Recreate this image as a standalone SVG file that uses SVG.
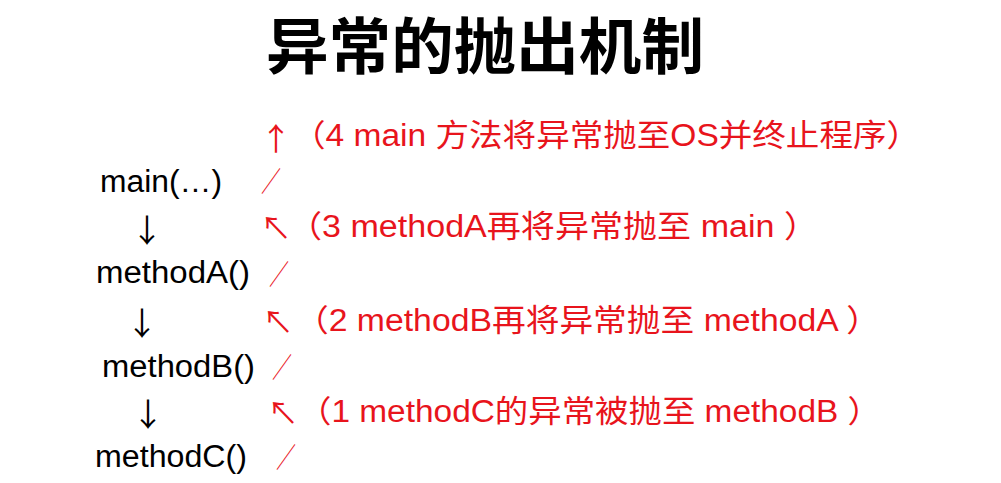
<svg xmlns="http://www.w3.org/2000/svg" width="1001" height="483" viewBox="0 0 1001 483">
<style>
.title{font-family:"Noto Sans CJK SC",sans-serif;font-weight:700;font-size:61px;fill:#000}
.node{font-family:"Liberation Sans","Noto Sans CJK SC",sans-serif;font-size:31px;fill:#000}
.down{font-family:"Noto Sans CJK SC",sans-serif;font-size:32px;fill:#000;text-anchor:middle}
.sym{font-family:"Noto Sans CJK SC",sans-serif;font-size:31px;fill:#e8141c;text-anchor:middle}
.slash{font-family:"Noto Sans CJK SC",sans-serif;font-size:28px;fill:#e8141c}
.note{font-family:"Liberation Sans","Noto Sans CJK SC",sans-serif;font-size:31px;fill:#e8141c}
</style>
<rect width="1001" height="483" fill="#fff"/>
<text class="title" x="266" y="69" textLength="438" lengthAdjust="spacingAndGlyphs">异常的抛出机制</text>
<g id="node-main"><text class="node" x="100" y="192" textLength="122" lengthAdjust="spacingAndGlyphs">main(…)</text></g>
<g id="node-methodA"><text class="node" x="96" y="283" textLength="154" lengthAdjust="spacingAndGlyphs">methodA()</text></g>
<g id="node-methodB"><text class="node" x="102" y="377" textLength="153" lengthAdjust="spacingAndGlyphs">methodB()</text></g>
<g id="node-methodC"><text class="node" x="95" y="467" textLength="152" lengthAdjust="spacingAndGlyphs">methodC()</text></g>
<g id="connectors">
<text class="down" x="147" y="242">↓</text>
<text class="down" x="142" y="335">↓</text>
<text class="down" x="148" y="426">↓</text>
<text class="sym" x="276" y="150">↑</text>
<text class="sym" x="276" y="239">↖</text>
<text class="sym" x="278" y="333">↖</text>
<text class="sym" x="283" y="424">↖</text>
<text class="slash" x="261" y="192" textLength="20" lengthAdjust="spacingAndGlyphs">／</text>
<text class="slash" x="269" y="285" textLength="20" lengthAdjust="spacingAndGlyphs">／</text>
<text class="slash" x="272" y="378" textLength="20" lengthAdjust="spacingAndGlyphs">／</text>
<text class="slash" x="276" y="468" textLength="20" lengthAdjust="spacingAndGlyphs">／</text>
</g>
<g id="notes">
<text class="note" x="292" y="146" textLength="628" lengthAdjust="spacingAndGlyphs">（4 main 方法将异常抛至OS并终止程序）</text>
<text class="note" x="288" y="237" textLength="530" lengthAdjust="spacingAndGlyphs">（3 methodA再将异常抛至 main ）</text>
<text class="note" x="295" y="331" textLength="585" lengthAdjust="spacingAndGlyphs">（2 methodB再将异常抛至 methodA ）</text>
<text class="note" x="298" y="422" textLength="583" lengthAdjust="spacingAndGlyphs">（1 methodC的异常被抛至 methodB ）</text>
</g>
</svg>
